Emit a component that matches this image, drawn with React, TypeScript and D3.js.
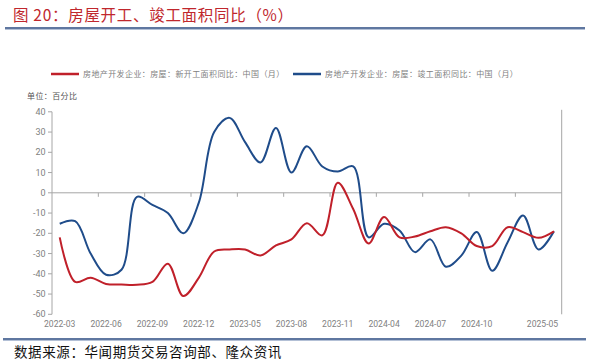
import React from "react";
import * as d3 from "d3";

const months: string[] = [
  "2022-03","2022-04","2022-05","2022-06","2022-07","2022-08","2022-09","2022-10","2022-11","2022-12",
  "2023-03","2023-04","2023-05","2023-06","2023-07","2023-08","2023-09","2023-10","2023-11","2023-12",
  "2024-03","2024-04","2024-05","2024-06","2024-07","2024-08","2024-09","2024-10","2024-11","2024-12",
  "2025-03","2025-04","2025-05",
];

const newStarts: number[] = [
  -22, -44, -42, -45, -45.3, -45.4, -44, -35, -51, -42,
  -29, -28, -28, -31, -26, -23, -15, -21, 5, -8,
  -25, -12, -22, -21.6, -19, -17, -20, -26.3, -26.3, -17,
  -19.4, -22.2, -19,
];

const completions: number[] = [
  -15.3, -14, -30, -40.5, -38, -2, -6, -10, -20, -5,
  30, 37, 25, 15, 32, 10, 23, 13, 10.5, 13,
  -22, -15.3, -18.6, -29.3, -23, -36.5, -31, -19.4, -38.5, -24.4,
  -11.2, -28, -19,
];

const yTicks: number[] = [40, 30, 20, 10, 0, -10, -20, -30, -40, -50, -60];
const labelIdx: number[] = [0, 3, 6, 9, 12, 15, 18, 21, 24, 27, 32];

const seriesNames: string[] = [
  "房地产开发企业：房屋：新开工面积同比：中国（月）",
  "房地产开发企业：房屋：竣工面积同比：中国（月）",
];
const seriesColors: string[] = ["#c0202a", "#1f4c8a"];

const title = "图 20：房屋开工、竣工面积同比（%）";
const unitText = "单位：百分比";
const sourceText = "数据来源：华闻期货交易咨询部、隆众资讯";

export default function App() {
  const W = 589, H = 361;
  const left = 52, right = 561.7, top = 111.8, bottom = 314.3;
  const x = d3.scaleBand<string>().domain(months).range([left, right]).paddingInner(0).paddingOuter(0);
  const bw = x.bandwidth();
  const cx = (m: string) => (x(m) as number) + bw / 2;
  const y = d3.scaleLinear().domain([-60, 40]).range([bottom, top]);

  const line = d3
    .line<number>()
    .x((_, i) => cx(months[i]))
    .y((d) => y(d))
    .curve(d3.curveCatmullRom.alpha(0.5));

  const font = "'Noto Sans CJK SC', 'Noto Sans', sans-serif";
  const axisColor = "#a6a6a6";
  const textGray = "#7f7f7f";

  const boundaryTicks = d3.range(3, months.length, 3).map((i) => x(months[i]) as number);

  return (
    <svg width={W} height={H} style={{ position: "absolute", left: 0, top: 0, background: "#fff" }} fontFamily={font}>
      <text x={13} y={21} fontSize={15.5} fill="#c0272d" letterSpacing={0.7}>{title}</text>
      <line x1={5} x2={585} y1={28} y2={28} stroke="#2a4a80" strokeWidth={1.6} />
      <line x1={5} x2={585} y1={29.5} y2={29.5} stroke="#9fb0cc" strokeWidth={0.8} />

      {/* legend */}
      {seriesNames.map((n, i) => {
        const lx = i === 0 ? 51 : 293;
        return (
          <g key={n}>
            <line x1={lx} x2={lx + 28} y1={74} y2={74} stroke={seriesColors[i]} strokeWidth={2.5} />
            <text x={lx + 32} y={77} fontSize={8} fill="#808080" letterSpacing={0.4}>{n}</text>
          </g>
        );
      })}

      <text x={27} y={99} fontSize={8} fill="#555" letterSpacing={0.4}>{unitText}</text>

      {/* y axis */}
      <line x1={left} x2={left} y1={top} y2={bottom} stroke={axisColor} strokeWidth={1} />
      <line x1={right} x2={right} y1={top - 2} y2={bottom} stroke={axisColor} strokeWidth={1} />
      {yTicks.map((t) => (
        <g key={t}>
          <line x1={left - 4} x2={left} y1={y(t)} y2={y(t)} stroke={axisColor} />
          <text x={45.5} y={y(t)} dy="0.35em" fontSize={9} fill={textGray} textAnchor="end" fontFamily="Roboto, sans-serif">
            {t}
          </text>
        </g>
      ))}

      {/* x axis at zero */}
      <line x1={left} x2={right} y1={y(0)} y2={y(0)} stroke={axisColor} strokeWidth={1} />
      {boundaryTicks.map((bx, i) => (
        <line key={i} x1={bx} x2={bx} y1={y(0)} y2={y(0) + 4} stroke={axisColor} />
      ))}
      {labelIdx.map((i) => {
        const isLast = i === months.length - 1;
        const px = isLast ? right - 3.5 : cx(months[i]);
        return (
          <text key={i} x={px} y={327} fontSize={8.6} fill={textGray} textAnchor={isLast ? "end" : "middle"} fontFamily="Roboto, sans-serif">
            {months[i]}
          </text>
        );
      })}

      {/* lines */}
      <path d={line(completions) || ""} fill="none" stroke={seriesColors[1]} strokeWidth={2} />
      <path d={line(newStarts) || ""} fill="none" stroke={seriesColors[0]} strokeWidth={2} />

      <line x1={3} x2={586} y1={339} y2={339} stroke="#2a4a80" strokeWidth={1.6} />
      <line x1={3} x2={586} y1={340.5} y2={340.5} stroke="#9fb0cc" strokeWidth={0.8} />
      <text x={14} y={357} fontSize={13.5} fill="#111" letterSpacing={0.6}>{sourceText}</text>
    </svg>
  );
}
